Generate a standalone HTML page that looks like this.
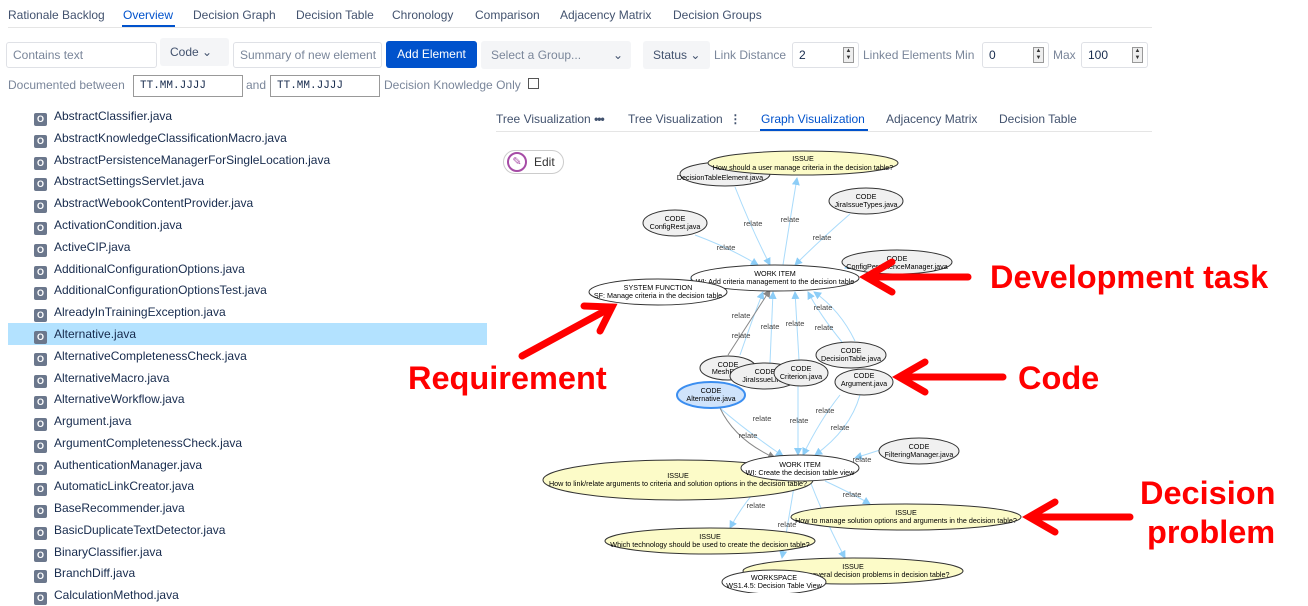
<!DOCTYPE html>
<html><head><meta charset="utf-8"><style>
*{box-sizing:border-box;margin:0;padding:0}
body{width:1308px;height:593px;overflow:hidden;background:#fff;font-family:"Liberation Sans",sans-serif;color:#333;position:relative}
.a{position:absolute;white-space:nowrap}
.t{font-size:12px;color:#42526e}
.box{position:absolute;border:1px solid #dfe1e6;border-radius:3px;background:#fff;font-size:12px;color:#7a869a;padding:0 6px;line-height:24px;height:26px;white-space:nowrap;overflow:hidden}
.gbtn{position:absolute;background:#f4f5f7;border-radius:3px;font-size:12px;color:#42526e;height:28px;line-height:28px;padding:0 10px;white-space:nowrap;overflow:hidden}
.spin{position:absolute;right:4px;top:4px;width:11px;height:16px;border:1px solid #999;background:#eee;font-size:6px;line-height:7px;text-align:center;color:#333}
.it{position:absolute;left:34px;font-size:12px;color:#172b4d;height:22px;line-height:22px;white-space:nowrap}
.it i{display:inline-block;width:13px;height:13px;background:#6b778c;border-radius:2px;vertical-align:-2px;margin-right:7px;color:#fff;font-style:normal;font-size:9px;line-height:13px;text-align:center;font-weight:bold}
</style></head><body>
<div class="a t" style="left:8px;top:8px">Rationale Backlog</div>
<div class="a t" style="left:123px;top:8px;color:#0052cc">Overview</div>
<div class="a" style="left:122px;top:25px;width:53px;height:2px;background:#0052cc"></div>
<div class="a t" style="left:193px;top:8px">Decision Graph</div>
<div class="a t" style="left:296px;top:8px">Decision Table</div>
<div class="a t" style="left:392px;top:8px">Chronology</div>
<div class="a t" style="left:475px;top:8px">Comparison</div>
<div class="a t" style="left:560px;top:8px">Adjacency Matrix</div>
<div class="a t" style="left:673px;top:8px">Decision Groups</div>
<div class="a" style="left:8px;top:27px;width:1144px;height:1px;background:#e5e5e5"></div>
<div class="box" style="left:6px;top:42px;width:151px">Contains text</div>
<div class="gbtn" style="left:160px;top:38px;width:69px;height:28px">Code &#8964;</div>
<div class="box" style="left:233px;top:42px;width:149px">Summary of new element</div>
<div class="a" style="left:386px;top:41px;width:91px;height:27px;background:#0052cc;border-radius:3px;color:#fff;font-size:12px;line-height:27px;text-align:center">Add Element</div>
<div class="gbtn" style="left:481px;top:41px;width:150px;color:#7a869a">Select a Group...<span style="position:absolute;right:8px;color:#42526e">&#8964;</span></div>
<div class="gbtn" style="left:643px;top:41px;width:67px">Status &#8964;</div>
<div class="a t" style="left:714px;top:48px;color:#7a869a">Link Distance</div>
<div class="box" style="left:792px;top:42px;width:67px;color:#172b4d">2<div class="spin">▲<br>▼</div></div>
<div class="a t" style="left:863px;top:48px;color:#7a869a">Linked Elements Min</div>
<div class="box" style="left:982px;top:42px;width:67px;color:#172b4d">0<div class="spin">▲<br>▼</div></div>
<div class="a t" style="left:1053px;top:48px;color:#7a869a">Max</div>
<div class="box" style="left:1081px;top:42px;width:67px;color:#172b4d">100<div class="spin">▲<br>▼</div></div>
<div class="a t" style="left:8px;top:78px;color:#7a869a">Documented between</div>
<div class="box" style="left:133px;top:75px;width:110px;height:22px;line-height:20px;font-family:'Liberation Mono',monospace;color:#172b4d;font-size:11px;border-color:#999;border-radius:0">TT.MM.JJJJ</div>
<div class="a t" style="left:246px;top:78px;color:#7a869a">and</div>
<div class="box" style="left:270px;top:75px;width:110px;height:22px;line-height:20px;font-family:'Liberation Mono',monospace;color:#172b4d;font-size:11px;border-color:#999;border-radius:0">TT.MM.JJJJ</div>
<div class="a t" style="left:384px;top:78px;color:#7a869a">Decision Knowledge Only</div>
<div class="a" style="left:528px;top:78px;width:11px;height:11px;border:1px solid #555"></div>
<div class="a" style="left:8px;top:323px;width:479px;height:22px;background:#b3e2ff"></div>
<div class="it" style="top:105px"><i>O</i>AbstractClassifier.java</div>
<div class="it" style="top:127px"><i>O</i>AbstractKnowledgeClassificationMacro.java</div>
<div class="it" style="top:149px"><i>O</i>AbstractPersistenceManagerForSingleLocation.java</div>
<div class="it" style="top:170px"><i>O</i>AbstractSettingsServlet.java</div>
<div class="it" style="top:192px"><i>O</i>AbstractWebookContentProvider.java</div>
<div class="it" style="top:214px"><i>O</i>ActivationCondition.java</div>
<div class="it" style="top:236px"><i>O</i>ActiveCIP.java</div>
<div class="it" style="top:258px"><i>O</i>AdditionalConfigurationOptions.java</div>
<div class="it" style="top:279px"><i>O</i>AdditionalConfigurationOptionsTest.java</div>
<div class="it" style="top:301px"><i>O</i>AlreadyInTrainingException.java</div>
<div class="it" style="top:323px"><i>O</i>Alternative.java</div>
<div class="it" style="top:345px"><i>O</i>AlternativeCompletenessCheck.java</div>
<div class="it" style="top:367px"><i>O</i>AlternativeMacro.java</div>
<div class="it" style="top:388px"><i>O</i>AlternativeWorkflow.java</div>
<div class="it" style="top:410px"><i>O</i>Argument.java</div>
<div class="it" style="top:432px"><i>O</i>ArgumentCompletenessCheck.java</div>
<div class="it" style="top:454px"><i>O</i>AuthenticationManager.java</div>
<div class="it" style="top:475px"><i>O</i>AutomaticLinkCreator.java</div>
<div class="it" style="top:497px"><i>O</i>BaseRecommender.java</div>
<div class="it" style="top:519px"><i>O</i>BasicDuplicateTextDetector.java</div>
<div class="it" style="top:541px"><i>O</i>BinaryClassifier.java</div>
<div class="it" style="top:562px"><i>O</i>BranchDiff.java</div>
<div class="it" style="top:584px"><i>O</i>CalculationMethod.java</div>
<div class="a t" style="left:496px;top:112px">Tree Visualization <b style="letter-spacing:-1px">•••</b></div>
<div class="a t" style="left:628px;top:112px">Tree Visualization &nbsp;<b>⋮</b></div>
<div class="a t" style="left:761px;top:112px;color:#0052cc">Graph Visualization</div>
<div class="a" style="left:760px;top:129px;width:108px;height:2px;background:#0052cc"></div>
<div class="a t" style="left:886px;top:112px">Adjacency Matrix</div>
<div class="a t" style="left:999px;top:112px">Decision Table</div>
<div class="a" style="left:496px;top:131px;width:656px;height:1px;background:#e5e5e5"></div>
<div class="a" style="left:503px;top:150px;width:61px;height:24px;border:1px solid #ccc;border-radius:12px;font-size:12px;line-height:22px;padding-left:30px;color:#333">Edit</div>
<div class="a" style="left:507px;top:152px;width:20px;height:20px;border:2px solid #a64ca6;border-radius:50%;color:#a64ca6;font-size:11px;text-align:center;line-height:16px">✎</div>
<svg class="a" style="left:0;top:0" width="1308" height="593" font-family="Liberation Sans,sans-serif">
<defs>
<marker id="m" markerWidth="8" markerHeight="8" refX="7" refY="4" orient="auto"><path d="M0,0L8,4L0,8z" fill="#8ccdf7"/></marker>
<marker id="g" markerWidth="8" markerHeight="8" refX="7" refY="4" orient="auto"><path d="M0,0L8,4L0,8z" fill="#888"/></marker>
</defs>
<g stroke="#a9dbfb" stroke-width="1" fill="none" marker-end="url(#m)">
<path d="M735,187 Q752,230 770,265"/>
<path d="M783,265 Q790,220 797,178"/>
<path d="M850,214 Q820,240 795,265"/>
<path d="M695,235 Q730,248 758,265"/>
<path d="M860,262 L845,268"/>
<path d="M740,355 Q752,320 763,292"/>
<path d="M770,363 L773,292"/>
<path d="M799,360 L795,292"/>
<path d="M842,342 Q820,315 808,292"/>
<path d="M695,277 L690,284"/>
<path d="M855,341 Q840,310 814,292"/>
<path d="M720,408 Q745,430 783,456"/>
<path d="M798,386 L798,455"/>
<path d="M840,395 Q820,420 803,455"/>
<path d="M860,395 Q850,430 815,455"/>
<path d="M880,450 L855,458"/>
<path d="M741,465 L735,472"/>
<path d="M825,481 Q855,495 870,504"/>
<path d="M765,481 Q745,500 730,528"/>
<path d="M795,481 L782,558"/>
<path d="M810,481 Q825,520 845,558"/>
</g>
<path d="M728,355 L770,290" stroke="#888" fill="none" marker-end="url(#g)"/>
<path d="M720,408 Q735,440 775,458" stroke="#888" fill="none" marker-end="url(#g)"/>
<g font-size="7.5" fill="#444" text-anchor="middle">
<text x="753" y="226">relate</text><text x="790" y="222">relate</text><text x="822" y="240">relate</text><text x="726" y="250">relate</text>
<text x="741" y="318">relate</text><text x="741" y="338">relate</text><text x="770" y="329">relate</text><text x="795" y="326">relate</text><text x="824" y="330">relate</text><text x="823" y="310">relate</text>
<text x="762" y="421">relate</text><text x="799" y="423">relate</text><text x="825" y="413">relate</text><text x="840" y="430">relate</text><text x="748" y="438">relate</text>
<text x="862" y="462">relate</text><text x="852" y="497">relate</text><text x="756" y="508">relate</text><text x="787" y="527">relate</text>
</g>
<g stroke="#333" stroke-width="1" font-size="7.2" fill="#000" text-anchor="middle">
<ellipse cx="725" cy="174" rx="45" ry="12" fill="#f0f0f0"/><text stroke="none" x="720" y="180">DecisionTableElement.java</text>
<ellipse cx="803" cy="163" rx="95" ry="12" fill="#fcfbc8"/><text stroke="none" x="803" y="161">ISSUE</text><text stroke="none" x="803" y="170">How should a user manage criteria in the decision table?</text>
<ellipse cx="866" cy="201" rx="37" ry="13" fill="#f0f0f0"/><text stroke="none" x="866" y="199">CODE</text><text stroke="none" x="866" y="207">JiraIssueTypes.java</text>
<ellipse cx="675" cy="223" rx="32" ry="13" fill="#f0f0f0"/><text stroke="none" x="675" y="221">CODE</text><text stroke="none" x="675" y="229">ConfigRest.java</text>
<ellipse cx="897" cy="262" rx="55" ry="12" fill="#f0f0f0"/><text stroke="none" x="897" y="261">CODE</text><text stroke="none" x="897" y="269">ConfigPersistenceManager.java</text>
<ellipse cx="775" cy="278" rx="84" ry="13" fill="#fff"/><text stroke="none" x="775" y="276">WORK ITEM</text><text stroke="none" x="775" y="284">WI: Add criteria management to the decision table</text>
<ellipse cx="658" cy="292" rx="69" ry="13" fill="#fff"/><text stroke="none" x="658" y="290">SYSTEM FUNCTION</text><text stroke="none" x="658" y="298">SF: Manage criteria in the decision table</text>
<ellipse cx="851" cy="355" rx="35" ry="13" fill="#f0f0f0"/><text stroke="none" x="851" y="353">CODE</text><text stroke="none" x="851" y="361">DecisionTable.java</text>
<ellipse cx="728" cy="368" rx="28" ry="12" fill="#f0f0f0"/><text stroke="none" x="728" y="367">CODE</text><text stroke="none" x="728" y="374">MeshRest</text>
<ellipse cx="765" cy="376" rx="35" ry="13" fill="#f0f0f0"/><text stroke="none" x="765" y="374">CODE</text><text stroke="none" x="765" y="382">JiraIssueLinks</text>
<ellipse cx="801" cy="373" rx="27" ry="13" fill="#f0f0f0"/><text stroke="none" x="801" y="371">CODE</text><text stroke="none" x="801" y="379">Criterion.java</text>
<ellipse cx="864" cy="382" rx="29" ry="13" fill="#f0f0f0"/><text stroke="none" x="864" y="378">CODE</text><text stroke="none" x="864" y="386">Argument.java</text>
<ellipse cx="711" cy="395" rx="34" ry="13" fill="#cfe3fb" stroke="#3b8ef0" stroke-width="2"/><text stroke="none" x="711" y="393">CODE</text><text stroke="none" x="711" y="401">Alternative.java</text>
<ellipse cx="919" cy="451" rx="40" ry="13" fill="#f0f0f0"/><text stroke="none" x="919" y="449">CODE</text><text stroke="none" x="919" y="457">FilteringManager.java</text>
<ellipse cx="678" cy="480" rx="135" ry="20" fill="#fcfbc8"/><text stroke="none" x="678" y="478">ISSUE</text><text stroke="none" x="678" y="486">How to link/relate arguments to criteria and solution options in the decision table?</text>
<ellipse cx="800" cy="468" rx="59" ry="13" fill="#fff"/><text stroke="none" x="800" y="467">WORK ITEM</text><text stroke="none" x="800" y="475">WI: Create the decision table view</text>
<ellipse cx="906" cy="517" rx="115" ry="13" fill="#fcfbc8"/><text stroke="none" x="906" y="515">ISSUE</text><text stroke="none" x="906" y="523">How to manage solution options and arguments in the decision table?</text>
<ellipse cx="710" cy="541" rx="105" ry="13" fill="#fcfbc8"/><text stroke="none" x="710" y="539">ISSUE</text><text stroke="none" x="710" y="547">Which technology should be used to create the decision table?</text>
<ellipse cx="853" cy="571" rx="110" ry="13" fill="#fcfbc8"/><text stroke="none" x="853" y="569">ISSUE</text><text stroke="none" x="853" y="577">How to manage several decision problems in decision table?</text>
<ellipse cx="774" cy="582" rx="52" ry="12" fill="#fff"/><text stroke="none" x="774" y="580">WORKSPACE</text><text stroke="none" x="774" y="588">WS1.4.5: Decision Table View</text>
</g>
<g stroke="#f00" stroke-width="7" stroke-linecap="round" fill="none">
<path d="M968,277 L866,277 M892,262 L866,277 L892,292"/>
<path d="M522,356 L612,307 M584,306 L612,307 L600,331"/>
<path d="M1003,377 L899,377 M925,362 L899,377 L925,392"/>
<path d="M1130,517 L1029,517 M1055,502 L1029,517 L1055,532"/>
</g>
<g fill="#f00" font-weight="bold" font-size="32.5">
<text x="990" y="288">Development task</text>
<text x="408" y="389">Requirement</text>
<text x="1018" y="389">Code</text>
<text x="1140" y="504">Decision</text>
<text x="1147" y="543">problem</text>
</g>
</svg>
</body></html>
